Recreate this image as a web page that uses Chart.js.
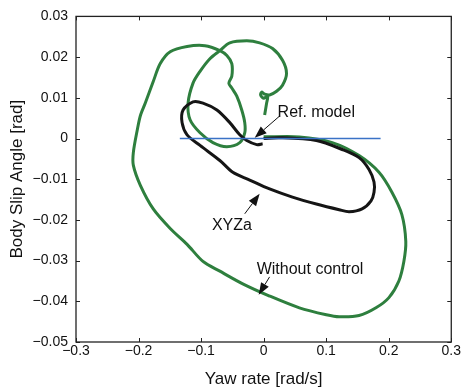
<!DOCTYPE html>
<html>
<head>
<meta charset="utf-8">
<script src="https://cdn.jsdelivr.net/npm/chart.js@4"></script>
<style>
html,body{margin:0;padding:0;background:#fff;}
#wrap{width:462px;height:392px;}
</style>
</head>
<body>
<div id="wrap"><canvas id="c" width="462" height="392"></canvas></div>
<script>
// ---- data ----
const xTickLabels = ['\u22120.3','\u22120.2','\u22120.1','0','0.1','0.2','0.3'];
const yTickLabels = ['\u22120.05','\u22120.04','\u22120.03','\u22120.02','\u22120.01','0','0.01','0.02','0.03'];

const refModelX = [-0.134, 0.187];
const refModelY = [0.0, 0.0];

const withoutControlX = [0.0, 0.0572, 0.1097, 0.1526, 0.1844, 0.2051, 0.2210, 0.2273, 0.2242, 0.2162, 0.2003, 0.1796, 0.1526, 0.1208, 0.1002, 0.0572, 0.0095, -0.0334, -0.0700, -0.0970, -0.1224, -0.1494, -0.1765, -0.1971, -0.2083, -0.2083, -0.2019, -0.1971, -0.1892, -0.1765, -0.1653, -0.1494, -0.1224, -0.0938, -0.0700, -0.0588, -0.0509, -0.0509, -0.0556, -0.0509, -0.0429, -0.0350, -0.0302, -0.0302, -0.0382, -0.0588, -0.0811, -0.1017, -0.1176, -0.1208, -0.1129, -0.1017, -0.0859, -0.0700, -0.0541, -0.0270, -0.0064, 0.0143, 0.0302, 0.0366, 0.0302, 0.0207, 0.0095, 0.0016, -0.0032, -0.0048, 0.0, 0.0064, 0.0048, 0.0016];
const withoutControlY = [0.0004, 0.0004, -0.0010, -0.0042, -0.0083, -0.0132, -0.0187, -0.0253, -0.0302, -0.0350, -0.0391, -0.0416, -0.0435, -0.0438, -0.0433, -0.0416, -0.0387, -0.0357, -0.0326, -0.0302, -0.0260, -0.0221, -0.0173, -0.0115, -0.0066, -0.0034, 0.0022, 0.0056, 0.0087, 0.0140, 0.0184, 0.0213, 0.0226, 0.0228, 0.0216, 0.0204, 0.0184, 0.0153, 0.0136, 0.0124, 0.0104, 0.0070, 0.0039, 0.0014, -0.0010, -0.0020, -0.0010, 0.0014, 0.0046, 0.0087, 0.0136, 0.0165, 0.0196, 0.0216, 0.0235, 0.0240, 0.0235, 0.0221, 0.0192, 0.0160, 0.0131, 0.0116, 0.0107, 0.0109, 0.0114, 0.0107, 0.0099, 0.0104, 0.0087, 0.0058];

const xyzaX = [0.0, 0.0254, 0.0843, 0.1256, 0.1526, 0.1685, 0.1765, 0.1765, 0.1717, 0.1574, 0.1367, 0.1208, 0.0843, 0.0461, 0.0095, -0.0223, -0.0493, -0.0700, -0.1017, -0.1224, -0.1304, -0.1288, -0.1129, -0.0970, -0.0747, -0.0541, -0.0382, -0.0270, -0.0111, -0.0016];
const xyzaY = [0.0, 0.0002, -0.0005, -0.0027, -0.0047, -0.0076, -0.0107, -0.0132, -0.0153, -0.0173, -0.0180, -0.0175, -0.0161, -0.0144, -0.0124, -0.0102, -0.0083, -0.0054, -0.0017, 0.0009, 0.0039, 0.0070, 0.0090, 0.0087, 0.0070, 0.0039, 0.0009, -0.0005, -0.0015, -0.0013];

// annotation labels (data units)
const notes = [
  {text: 'Ref. model', x: 0.0223, y: 0.0063, tail: [0.0254, 0.0055], tip: [-0.0143, 0.0002]},
  {text: 'XYZa', x: -0.0827, y: -0.0214, tail: [-0.0302, -0.0185], tip: [-0.0064, -0.0136]},
  {text: 'Without control', x: -0.0111, y: -0.0323, tail: [0.0095, -0.0340], tip: [-0.0079, -0.0384]}
];

const zip = (xs, ys) => xs.map((x, i) => ({x: x, y: ys[i]}));
const FONT = "'Liberation Sans', Arial, sans-serif";

const frame = {
  id: 'frame',
  afterDraw(chart) {
    const ctx = chart.ctx;
    const a = chart.chartArea;
    const xs = chart.scales.x, ys = chart.scales.y;
    ctx.save();
    ctx.strokeStyle = '#222';
    ctx.lineWidth = 1.3;
    ctx.strokeRect(a.left, a.top, a.right - a.left, a.bottom - a.top);
    ctx.lineWidth = 1;
    const L = 4;
    xs.ticks.forEach(t => {
      const px = Math.round(xs.getPixelForValue(t.value)) + 0.5;
      ctx.beginPath();
      ctx.moveTo(px, a.bottom); ctx.lineTo(px, a.bottom - L);
      ctx.moveTo(px, a.top); ctx.lineTo(px, a.top + L);
      ctx.stroke();
    });
    ys.ticks.forEach(t => {
      const py = Math.round(ys.getPixelForValue(t.value)) + 0.5;
      ctx.beginPath();
      ctx.moveTo(a.left, py); ctx.lineTo(a.left + L, py);
      ctx.moveTo(a.right, py); ctx.lineTo(a.right - L, py);
      ctx.stroke();
    });
    // annotations
    ctx.fillStyle = '#111';
    ctx.strokeStyle = '#111';
    ctx.font = '16px ' + FONT;
    ctx.textBaseline = 'middle';
    ctx.textAlign = 'left';
    notes.forEach(n => {
      ctx.fillText(n.text, xs.getPixelForValue(n.x), ys.getPixelForValue(n.y));
      const tx = xs.getPixelForValue(n.tail[0]), ty = ys.getPixelForValue(n.tail[1]);
      const hx = xs.getPixelForValue(n.tip[0]), hy = ys.getPixelForValue(n.tip[1]);
      const ang = Math.atan2(hy - ty, hx - tx);
      const hl = 12, hw = 4.5;
      const bx = hx - hl * Math.cos(ang), by = hy - hl * Math.sin(ang);
      ctx.lineWidth = 1;
      ctx.beginPath(); ctx.moveTo(tx, ty); ctx.lineTo(bx, by); ctx.stroke();
      ctx.beginPath();
      ctx.moveTo(hx, hy);
      ctx.lineTo(bx + hw * Math.sin(ang), by - hw * Math.cos(ang));
      ctx.lineTo(bx - hw * Math.sin(ang), by + hw * Math.cos(ang));
      ctx.closePath(); ctx.fill();
    });
    ctx.restore();
  }
};

new Chart(document.getElementById('c'), {
  type: 'scatter',
  data: {
    datasets: [
      {label: 'Ref. model', data: zip(refModelX, refModelY), showLine: true, borderColor: '#3a72c6', borderWidth: 1.5, pointRadius: 0, order: 0},
      {label: 'XYZa', data: zip(xyzaX, xyzaY), showLine: true, borderColor: '#151515', borderWidth: 3, pointRadius: 0, tension: 0.3, order: 1},
      {label: 'Without control', data: zip(withoutControlX, withoutControlY), showLine: true, borderColor: '#2e7f3e', borderWidth: 3, pointRadius: 0, tension: 0.3, order: 2}
    ]
  },
  options: {
    responsive: false,
    animation: false,
    devicePixelRatio: 1,
    layout: {padding: {top: 12, right: 8, left: 0, bottom: 0}},
    plugins: {legend: {display: false}, tooltip: {enabled: false}},
    scales: {
      x: {
        type: 'linear', min: -0.3, max: 0.3,
        afterFit: s => { s.height = 50; },
        grid: {display: false, drawTicks: false},
        border: {display: false},
        ticks: {stepSize: 0.1, padding: 1, color: '#111', font: {family: FONT, size: 14},
          callback: (v, i) => xTickLabels[i]},
        title: {display: true, text: 'Yaw rate [rad/s]', color: '#111', font: {family: FONT, size: 17}, padding: {top: 0, bottom: 2}}
      },
      y: {
        type: 'linear', min: -0.05, max: 0.03,
        afterFit: s => { s.width = 76; },
        grid: {display: false, drawTicks: false},
        border: {display: false},
        ticks: {stepSize: 0.01, padding: 8, color: '#111', font: {family: FONT, size: 14},
          callback: (v, i) => yTickLabels[i]},
        title: {display: true, text: 'Body Slip Angle [rad]', color: '#111', font: {family: FONT, size: 17}, padding: {top: 7, bottom: 0}}
      }
    }
  },
  plugins: [frame]
});
</script>
</body>
</html>
